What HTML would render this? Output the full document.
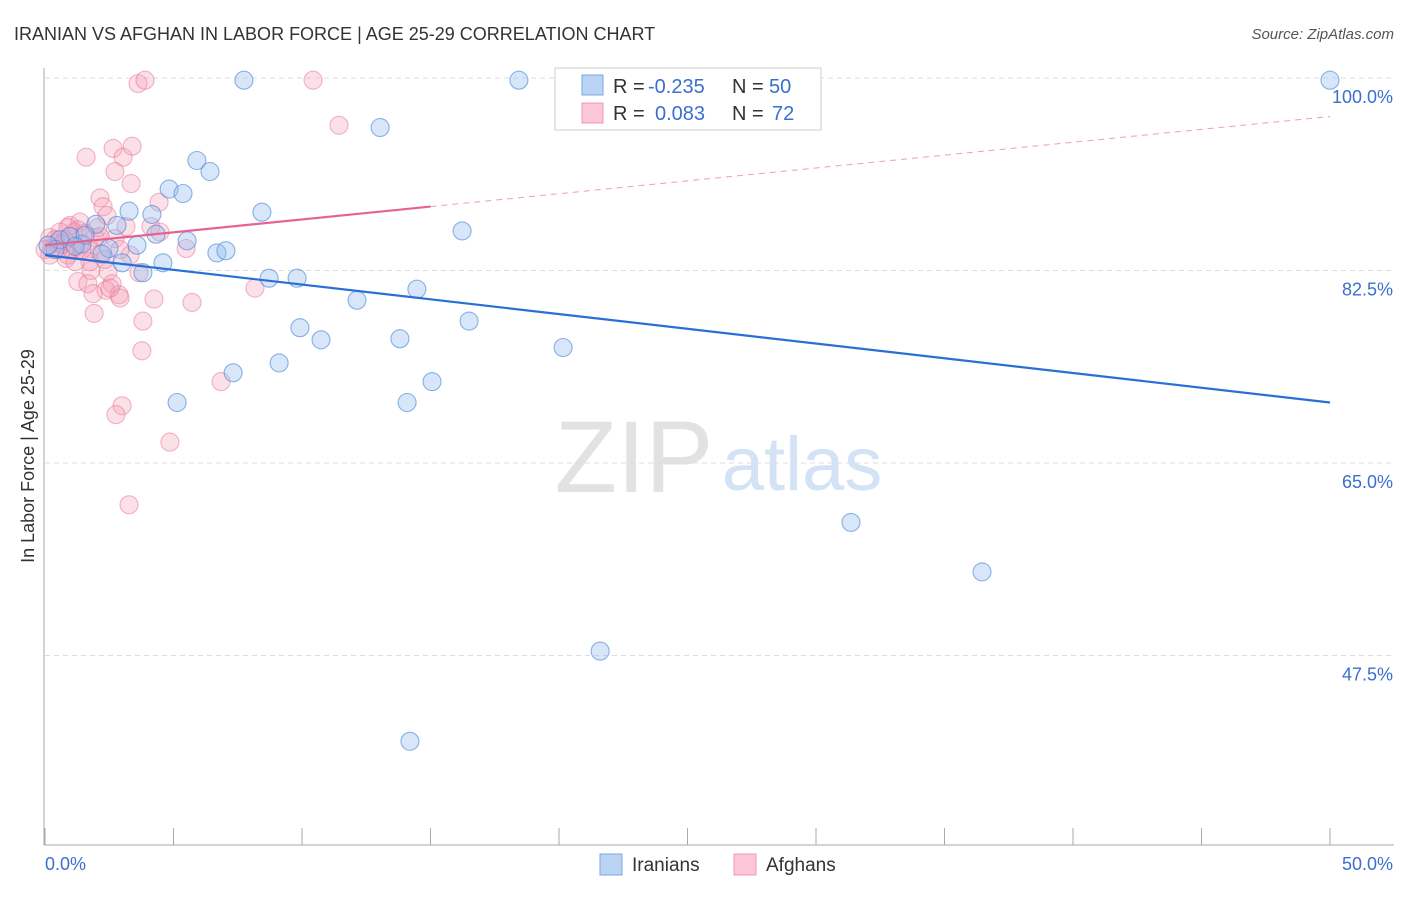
<!DOCTYPE html>
<html><head><meta charset="utf-8"><style>
body{margin:0;background:#fff;font-family:"Liberation Sans",sans-serif}
svg text{font-family:"Liberation Sans",sans-serif}
</style></head><body>
<svg id="chart" width="1406" height="892">
<text x="14" y="40" font-size="18" fill="#333">IRANIAN VS AFGHAN IN LABOR FORCE | AGE 25-29 CORRELATION CHART</text>
<text x="1394" y="39" font-size="15" fill="#555" text-anchor="end" font-style="italic">Source: ZipAtlas.com</text>
<text x="34" y="456" font-size="18" fill="#333" text-anchor="middle" transform="rotate(-90 34 456)">In Labor Force | Age 25-29</text>
<g><text x="634" y="492" font-size="102" fill="#e2e2e2" text-anchor="middle" font-family="Liberation Serif,serif">ZIP</text><text x="802" y="490" font-size="76" fill="#d3e2f5" text-anchor="middle">atlas</text></g>
<g id="grid"></g><g id="axes"></g><g id="pts"></g><g id="trend"></g>
<g>
<rect x="555" y="68" width="266" height="62" fill="#fff" stroke="#ccc"/>
<rect x="582" y="75" width="21" height="20" fill="#bcd4f4" stroke="#7aa6e0"/>
<rect x="582" y="103" width="21" height="20" fill="#fbc6d5" stroke="#ee98b2"/>
<text x="613" y="93" font-size="20" fill="#333">R = <tspan fill="#3a6fd0" x="648">-0.235</tspan><tspan x="732">N = </tspan><tspan fill="#3a6fd0" x="769">50</tspan></text>
<text x="613" y="120" font-size="20" fill="#333">R = <tspan fill="#3a6fd0" x="655">0.083</tspan><tspan x="732">N = </tspan><tspan fill="#3a6fd0" x="772">72</tspan></text>
</g>
<g>
<rect x="600" y="854" width="22" height="21" fill="#bcd4f4" stroke="#7aa6e0"/>
<text x="632" y="871" font-size="19" fill="#333">Iranians</text>
<rect x="734" y="854" width="22" height="21" fill="#fbc6d5" stroke="#ee98b2"/>
<text x="766" y="871" font-size="19" fill="#333">Afghans</text>
</g>
</svg>
<script>
const yTicks=[100,82.5,65,47.5];
const yTickLabels=["100.0%","82.5%","65.0%","47.5%"];
const xTickLabels=["0.0%","50.0%"];
const iranX=[7.74,18.44,25.88,50,13.04,5.91,6.42,4.83,5.37,8.44,4.16,3.27,2.80,1.98,16.23,4.32,5.53,3.58,2.49,1.44,2.22,6.69,7.04,3.0,4.59,3.81,8.72,9.81,14.47,12.14,16.5,9.92,10.74,13.81,20.16,9.11,7.32,15.06,5.14,14.09,31.36,36.46,21.6,14.2,0.58,0.97,0.39,0.12,1.56,1.17];
const iranY=[99.8,99.8,99.8,99.8,95.5,92.5,91.5,89.9,89.5,87.8,87.6,87.9,86.6,86.7,86.1,85.8,85.2,84.8,84.5,84.9,84.0,84.1,84.3,83.2,83.2,82.3,81.8,81.8,80.8,79.8,77.9,77.3,76.2,76.3,75.5,74.1,73.2,72.4,70.5,70.5,59.6,55.1,47.9,39.7,85.3,85.6,84.4,84.8,85.7,84.7];
const afgX=[3.62,3.89,10.43,11.44,1.6,2.65,3.04,3.39,2.72,3.35,2.14,4.44,2.26,2.41,4.12,3.15,0.97,1.36,1.95,0.78,0.58,1.13,1.75,0.43,0.27,0.89,2.14,5.49,2.72,1.79,2.45,3.66,1.28,1.67,2.61,2.37,2.88,2.92,1.87,4.24,5.72,8.17,1.91,3.81,3.77,6.85,3.0,2.76,4.86,3.27,1.56,0.19,0.51,1.05,1.36,2.14,0.82,2.53,1.75,0.39,0.66,0,1.17,3.31,1.28,0.89,2.06,2.92,4.47,2.33,1.44,0.19];
const afgY=[99.5,99.8,99.8,95.7,92.8,93.6,92.8,93.8,91.5,90.4,89.1,88.7,88.3,87.5,86.5,86.5,86.6,86.9,85.5,85.3,86.0,86.0,84.5,85.0,84.5,83.9,84.0,84.5,85.4,82.5,82.4,82.3,81.5,81.3,81.3,80.7,80.3,80.0,80.4,79.9,79.6,80.9,78.6,77.9,75.2,72.4,70.2,69.4,66.9,61.2,85.9,85.5,84.4,84.4,84.9,85.6,83.6,80.9,83.3,85.3,84.9,84.4,83.3,83.9,86.2,86.4,86.4,84.4,86.0,83.5,84.4,83.9];
const iranTrend=[83.9,70.5];
const afgTrend=[84.8,96.5];
const afgSolidEnd=15;
const NS="http://www.w3.org/2000/svg";
const X0=45,X1=1330,Y0=78,PPU=11;
function sx(v){return X0+(v/50)*(X1-X0);}
function sy(v){return Y0+(100-v)*PPU;}
function mk(tag,attrs,parent){const e=document.createElementNS(NS,tag);for(const k in attrs)e.setAttribute(k,attrs[k]);parent.appendChild(e);return e;}
const grid=document.getElementById('grid'),axes=document.getElementById('axes'),pts=document.getElementById('pts'),tr=document.getElementById('trend');
yTicks.forEach((t,i)=>{
 const l=mk('line',{x1:45,x2:1394,y1:sy(t),y2:sy(t),stroke:'#ddd','stroke-dasharray':'5,4'},grid);
 
 
 const tx=mk('text',{x:1393,y:sy(t)+25,'font-size':18,fill:'#3a6fd0','text-anchor':'end'},grid);
 tx.textContent=yTickLabels[i];
 
 
});
const ya=mk('line',{x1:44,x2:44,y1:68,y2:845,stroke:'#aaa'},axes);


const xa=mk('line',{x1:44,x2:1394,y1:845,y2:845,stroke:'#aaa'},axes);


for(let i=0;i<=10;i++){
 const t=mk('line',{x1:sx(i*5),x2:sx(i*5),y1:828,y2:845,stroke:'#aaa'},axes);
 
 
}
[[0,45,'start'],[50,1393,'end']].forEach((d,i)=>{
 const tx=mk('text',{x:d[1],y:870,'font-size':18,fill:'#3a6fd0','text-anchor':d[2]},axes);
 tx.textContent=xTickLabels[i];
 
 
});
afgX.forEach((x,i)=>{
 const c=mk('circle',{cx:sx(x),cy:sy(afgY[i]),r:9,fill:'rgba(246,160,185,0.32)',stroke:'rgba(230,120,155,0.55)','stroke-width':1.1},pts);
 
 
});
iranX.forEach((x,i)=>{
 const c=mk('circle',{cx:sx(x),cy:sy(iranY[i]),r:9,fill:'rgba(150,190,240,0.38)',stroke:'rgba(70,130,215,0.6)','stroke-width':1.1},pts);
 
 
});
const bl=mk('line',{x1:sx(0),y1:sy(iranTrend[0]),x2:sx(50),y2:sy(iranTrend[1]),stroke:'#2a6fd6','stroke-width':2.2},tr);


const am=afgTrend[0]+(afgTrend[1]-afgTrend[0])*afgSolidEnd/50;
const pl=mk('line',{x1:sx(0),y1:sy(afgTrend[0]),x2:sx(afgSolidEnd),y2:sy(am),stroke:'#e8628f','stroke-width':2.2},tr);


const pd=mk('line',{x1:sx(afgSolidEnd),y1:sy(am),x2:sx(50),y2:sy(afgTrend[1]),stroke:'#e8a0b8','stroke-width':1,'stroke-dasharray':'6,5'},tr);


</script>
</body></html>
